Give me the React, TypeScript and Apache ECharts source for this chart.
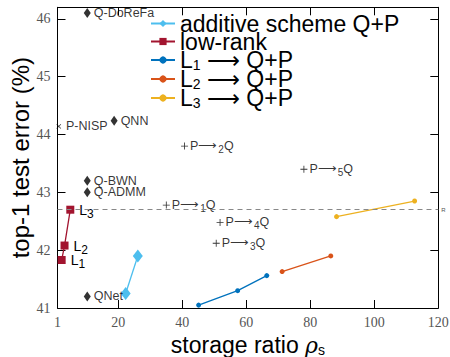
import React, { useEffect, useRef } from "react";
import * as echarts from "echarts";

// ---- data ----
const xLabelTicks = [1, 20, 40, 60, 80, 100, 120];
const xMinorTicks = [20, 40, 60, 80, 100];
const yTicks = [41, 42, 43, 44, 45, 46];
const yMinorTicks = [42, 43, 44, 45, 46];

const additiveX = [22.3, 26.1];
const additiveY = [41.25, 41.9];

const lowRankX = [2.3, 3.2, 5.0];
const lowRankY = [41.83, 42.08, 42.7];
const lowRankLabels = ["1", "2", "3"];

const l1X = [45.1, 57.3, 66.4];
const l1Y = [41.05, 41.3, 41.56];
const l2X = [71.2, 86.4];
const l2Y = [41.63, 41.9];
const l3X = [88.2, 112.6];
const l3Y = [42.58, 42.85];

const quantNames = ["Q-DoReFa", "QNN", "Q-BWN", "Q-ADMM", "QNet"];
const quantX = [10.3, 18.7, 10.3, 10.3, 10.3];
const quantY = [46.1, 44.24, 43.2, 43.0, 41.2];

const pruneNames = ["P-NISP"];
const pruneX = [1.4];
const pruneY = [44.14];

const pqSubs = ["1", "2", "3", "4", "5"];
const pqX = [35.0, 40.7, 50.6, 51.8, 78.0];
const pqY = [42.78, 43.8, 42.12, 42.48, 43.4];

const refY = 42.7;

const seriesNames = [
  "additive scheme Q+P",
  "low-rank",
  "L1 → Q+P",
  "L2 → Q+P",
  "L3 → Q+P",
];

const C_ADD = "#4DBEEE";
const C_LR = "#A2142F";
const C_L1 = "#0072BD";
const C_L2 = "#D95319";
const C_L3 = "#EDB120";

const SANS = "Liberation Sans, Arial, Helvetica, sans-serif";
const SERIF = "Liberation Serif, Times New Roman, serif";

const PLUS = "path://M0,4.4H10V5.6H0Z M4.4,0H5.6V10H4.4Z";

function zip(xs: number[], ys: number[]) {
  return xs.map((x, i) => [x, ys[i]]);
}

export default function App() {
  const ref = useRef<HTMLDivElement>(null);
  useEffect(() => {
    if (!ref.current) return;
    document.body.style.margin = "0";
    const chart = echarts.init(ref.current, undefined, { renderer: "svg" });

    const lineSeries = (name: string, color: string, data: number[][], symbol: string, size: number) => ({
      name,
      type: "line",
      data,
      symbol,
      symbolSize: size,
      showSymbol: true,
      lineStyle: { color, width: 1.3 },
      itemStyle: { color },
      z: 3,
    });

    const option: any = {
      animation: false,
      grid: { left: 57.5, right: 11.7, top: 7.3, bottom: 49, outerBoundsMode: "none", containLabel: false },
      legend: {
        left: 150,
        top: 12,
        orient: "vertical",
        padding: 0,
        itemGap: -5,
        itemWidth: 24,
        itemHeight: 9,
        data: seriesNames,
        textStyle: {
          fontFamily: SANS,
          fontSize: 23,
          color: "#000",
          lineHeight: 18,
          rich: {
            m: { fontFamily: SANS, fontSize: 23, lineHeight: 18, color: "#000" },
            sub: { fontFamily: SANS, fontSize: 14, lineHeight: 18, padding: [10, 0, 0, 0], color: "#000" },
          },
        },
        formatter: (name: string) => {
          if (name.startsWith("L") && name.includes("→")) {
            return "{m|L}{sub|" + name[1] + "}{m| ⟶ Q+P}";
          }
          return "{m|" + name + "}";
        },
      },
      xAxis: [
        {
          type: "value",
          min: 1,
          max: 120,
          name: "storage ratio {r|ρ}{s|s}",
          nameLocation: "middle",
          nameGap: 15,
          nameTextStyle: {
            fontFamily: SANS,
            fontSize: 23,
            color: "#000",
            rich: {
              r: { fontFamily: "DejaVu Serif, serif", fontStyle: "italic", fontSize: 22, color: "#000" },
              s: { fontFamily: SANS, fontSize: 14, padding: [10, 0, 0, 0], color: "#000" },
            },
          },
          axisLine: { show: true, onZero: false, lineStyle: { color: "#000", width: 1 } },
          axisTick: { show: true, inside: true, length: 8, customValues: xMinorTicks, lineStyle: { color: "#000" } },
          axisLabel: { customValues: xLabelTicks, fontFamily: SERIF, fontSize: 14, color: "#555", margin: 7 },
          splitLine: { show: false },
        },
        {
          type: "value",
          position: "top",
          min: 1,
          max: 120,
          axisLine: { show: true, onZero: false, lineStyle: { color: "#000", width: 1 } },
          axisTick: { show: true, inside: true, length: 8, customValues: xMinorTicks, lineStyle: { color: "#000" } },
          axisLabel: { show: false },
          splitLine: { show: false },
        },
      ],
      yAxis: [
        {
          type: "value",
          min: 41,
          max: 46.2,
          name: "top-1 test error (%)",
          nameLocation: "middle",
          nameGap: 25,
          nameMoveOverlap: false,
          nameTextStyle: { fontFamily: SANS, fontSize: 24, color: "#000" },
          axisLine: { show: true, onZero: false, lineStyle: { color: "#000", width: 1 } },
          axisTick: { show: true, inside: true, length: 8, customValues: yMinorTicks, lineStyle: { color: "#000" } },
          axisLabel: { customValues: yTicks, fontFamily: SERIF, fontSize: 14, color: "#555", margin: 7 },
          splitLine: { show: false },
        },
        {
          type: "value",
          position: "right",
          min: 41,
          max: 46.2,
          axisLine: { show: true, onZero: false, lineStyle: { color: "#000", width: 1 } },
          axisTick: { show: true, inside: true, length: 8, customValues: yMinorTicks, lineStyle: { color: "#000" } },
          axisLabel: { show: false },
          splitLine: { show: false },
        },
      ],
      series: [
        {
          ...lineSeries(seriesNames[0], C_ADD, zip(additiveX, additiveY), "diamond", 11),
          symbolSize: [10, 13],
        },
        {
          ...lineSeries(seriesNames[1], C_LR, zip(lowRankX, lowRankY), "rect", 8),
          label: {
            show: true,
            position: "right",
            distance: 5,
            formatter: (p: any) => "{m|L}{s|" + lowRankLabels[p.dataIndex] + "}",
            rich: {
              m: { fontFamily: SANS, fontSize: 14, color: "#000", lineHeight: 16 },
              s: { fontFamily: SANS, fontSize: 12, color: "#000", lineHeight: 16, padding: [8, 0, 0, 0] },
            },
          },
        },
        lineSeries(seriesNames[2], C_L1, zip(l1X, l1Y), "circle", 5),
        lineSeries(seriesNames[3], C_L2, zip(l2X, l2Y), "circle", 5),
        lineSeries(seriesNames[4], C_L3, zip(l3X, l3Y), "circle", 5),
        {
          name: "quant",
          type: "scatter",
          data: zip(quantX, quantY),
          symbol: "diamond",
          symbolSize: [7, 10],
          itemStyle: { color: "#000" },
          label: {
            show: true,
            position: "right",
            distance: 3,
            fontFamily: SANS,
            fontSize: 12.5,
            color: "#000",
            formatter: (p: any) => quantNames[p.dataIndex],
          },
          z: 4,
        },
        {
          name: "prune",
          type: "scatter",
          data: zip(pruneX, pruneY),
          symbol: PLUS,
          symbolSize: 6,
          symbolRotate: 45,
          itemStyle: { color: "#000" },
          label: {
            show: true,
            position: "right",
            distance: 3,
            fontFamily: SANS,
            fontSize: 12.5,
            color: "#000",
            formatter: (p: any) => pruneNames[p.dataIndex],
          },
          z: 4,
        },
        {
          name: "pq",
          type: "scatter",
          data: zip(pqX, pqY),
          symbol: PLUS,
          symbolSize: 7,
          itemStyle: { color: "#000" },
          label: {
            show: true,
            position: "right",
            distance: 2,
            formatter: (p: any) => "{m|P⟶}{s|" + pqSubs[p.dataIndex] + "}{m|Q}",
            rich: {
              m: { fontFamily: SANS, fontSize: 12.5, color: "#000", lineHeight: 14 },
              s: { fontFamily: SANS, fontSize: 10, color: "#000", lineHeight: 14, padding: [7, 0, 0, 1] },
            },
          },
          markLine: {
            silent: true,
            symbol: "none",
            lineStyle: { color: "#888", type: [5, 4], width: 1 },
            label: { show: true, position: "end", formatter: "R", fontSize: 6, color: "#555", distance: 3 },
            data: [{ yAxis: refY }],
          },
          z: 4,
        },
      ],
    };
    chart.setOption(option);
    return () => chart.dispose();
  }, []);
  return <div ref={ref} style={{ width: 450, height: 357 }} />;
}
